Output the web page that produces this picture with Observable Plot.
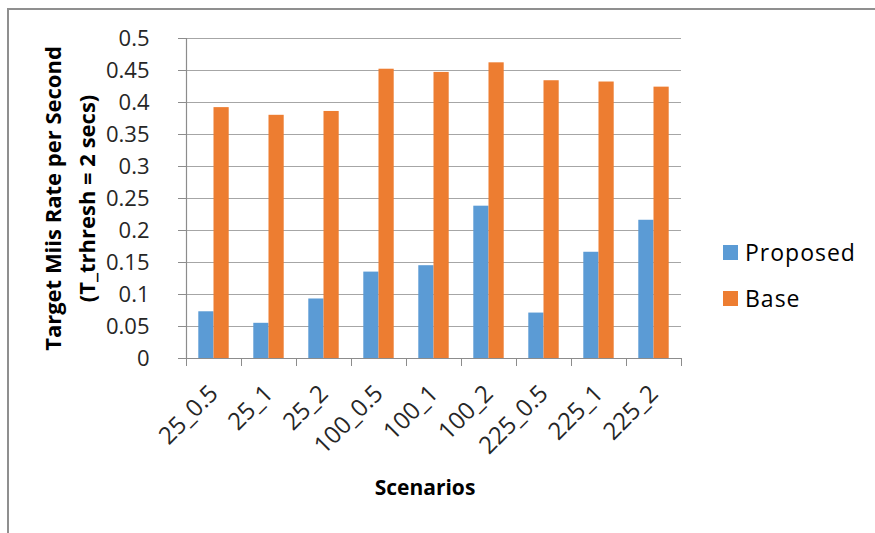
<!DOCTYPE html>
<html>
<head>
<meta charset="utf-8">
<script src="https://cdn.jsdelivr.net/npm/d3@7"></script>
<script src="https://cdn.jsdelivr.net/npm/@observablehq/plot@0.6"></script>
<style>
  html, body { margin: 0; padding: 0; background: #fff; }
  #wrap { position: relative; width: 875px; height: 533px; overflow: hidden; }
  #border { position: absolute; left: 7px; top: 8px; right: -10px; bottom: -10px;
            border-left: 2px solid #8f8f8f; border-top: 2px solid #8f8f8f; pointer-events: none; }
  #legend { position: absolute; left: 723px; top: 229px; font-family: "Open Sans", sans-serif;
            font-size: 23px; color: #000; letter-spacing: 1px; }
  .row { display: flex; align-items: center; height: 46px; }
  .sw { width: 15px; height: 15px; margin-right: 7px; }
</style>
</head>
<body>
<div id="wrap"><div id="border"></div><div id="legend"></div></div>
<script>
const scenarios = ["25_0.5", "25_1", "25_2", "100_0.5", "100_1", "100_2", "225_0.5", "225_1", "225_2"];
const proposed = [0.073, 0.055, 0.093, 0.135, 0.145, 0.238, 0.071, 0.166, 0.216];
const base = [0.392, 0.380, 0.386, 0.452, 0.447, 0.462, 0.434, 0.432, 0.424];
const yTicks = [0, 0.05, 0.1, 0.15, 0.2, 0.25, 0.3, 0.35, 0.4, 0.45, 0.5];
const seriesNames = ["Proposed", "Base"];
const seriesColors = ["#5b9bd5", "#ed7d31"];

const proposedData = scenarios.map((s, i) => ({scenario: s, value: proposed[i]}));
const baseData = scenarios.map((s, i) => ({scenario: s, value: base[i]}));

const axisGray = "#8c8c8c";
const chart = Plot.plot({
  width: 875,
  height: 533,
  marginLeft: 186,
  marginRight: 194,
  marginTop: 38,
  marginBottom: 175,
  style: {fontFamily: "Open Sans, sans-serif", fontSize: "21px", color: "#262626", background: "transparent"},
  x: {domain: scenarios, padding: 0},
  y: {domain: [0, 0.5]},
  marks: [
    Plot.gridY(yTicks, {stroke: "#a6a6a6", strokeOpacity: 1, strokeWidth: 1.2}),
    Plot.barY(proposedData, {x: "scenario", y: "value", fill: seriesColors[0], insetLeft: 12.3, insetRight: 27.5}),
    Plot.barY(baseData, {x: "scenario", y: "value", fill: seriesColors[1], insetLeft: 27.5, insetRight: 12.3}),
    Plot.ruleY([0], {stroke: axisGray, strokeWidth: 1.2}),
    Plot.frame({anchor: "left", stroke: axisGray, strokeWidth: 1.2}),
    Plot.axisY({ticks: yTicks, tickSize: 8, tickPadding: 29, stroke: axisGray, fontSize: 22, letterSpacing: 1.3,
      tickFormat: d => String(+d.toFixed(2)),
      label: "Target Miis Rate per Second\n(T_trhresh = 2 secs)", labelAnchor: "center", labelArrow: "none", labelOffset: 124}),
    Plot.axisX({tickSize: 0, tickRotate: -45, tickPadding: 31, fontSize: 24, letterSpacing: 1.5, dx: 0,
      label: "Scenarios", labelAnchor: "center", labelArrow: "none", labelOffset: 136}),
    Plot.axisX({text: null, tickSize: 8, dx: -27.5, stroke: axisGray, label: null}),
    Plot.axisX({ticks: [scenarios[scenarios.length - 1]], text: null, tickSize: 8, dx: 27.5, stroke: axisGray, label: null})
  ]
});
document.getElementById("wrap").prepend(chart);

const svg = d3.select(chart);
svg.selectAll("[aria-label='y-axis label'], [aria-label='x-axis label']")
  .attr("font-weight", "bold").attr("fill", "#000");
svg.selectAll("[aria-label='y-axis label'], [aria-label='y-axis label'] text").style("font-size", "22px");
svg.selectAll("[aria-label='x-axis label'], [aria-label='x-axis label'] text").style("font-size", "21px");
svg.selectAll("[aria-label='x-axis label'] text").attr("dx", -9);
svg.selectAll("[aria-label='y-axis label'] text").each(function () {
  const tspans = d3.select(this).selectAll("tspan");
  const n = tspans.size();
  tspans.each(function (d, i) {
    if (i === 0) d3.select(this).attr("dy", `${-(n - 1) * 0.78}em`);
    else d3.select(this).attr("dy", "1.56em");
  });
});

const legend = d3.select("#legend");
seriesNames.forEach((name, i) => {
  const row = legend.append("div").attr("class", "row");
  row.append("div").attr("class", "sw").style("background", seriesColors[i]);
  row.append("span").text(name);
});
</script>
</body>
</html>
